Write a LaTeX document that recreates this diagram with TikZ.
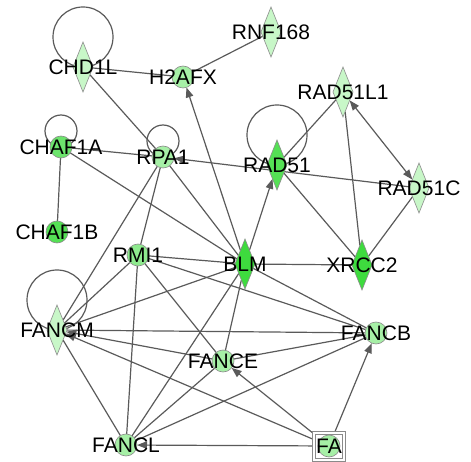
\documentclass[tikz,border=0pt]{standalone}
\usepackage{fontspec}
\setmainfont{Liberation Sans}
\usetikzlibrary{arrows.meta,shapes.geometric,backgrounds}

\definecolor{paleG}{HTML}{C8F7C8}
\definecolor{lightG}{HTML}{A6EFA6}
\definecolor{midG}{HTML}{8EEA8E}
\definecolor{chafG}{HTML}{6CE46C}
\definecolor{strongG}{HTML}{55E055}
\definecolor{deepG}{HTML}{3EDB3E}
\definecolor{edgeC}{HTML}{5A5A5A}
\definecolor{rimC}{HTML}{8A8A8A}

\tikzset{
  gene/.style={draw=rimC, line width=0.6pt, inner sep=0pt, outer sep=0pt},
  dia/.style={gene, diamond, minimum width=20pt, minimum height=50pt},
  dot/.style={gene, circle, minimum size=22pt},
  lbl/.style={font=\fontsize{21}{21}\selectfont, text=black, inner sep=0pt},
  link/.style={draw=edgeC, line width=1.2pt},
  act/.style={link, -{Triangle[length=10pt,width=7.5pt]}},
  both/.style={link, {Triangle[length=10pt,width=7.5pt]}-{Triangle[length=10pt,width=7.5pt]}},
  selfloop/.style={draw=edgeC, line width=1.2pt},
}

\begin{document}
\begin{tikzpicture}[x=1pt, y=-1pt]
\useasboundingbox (0,0) rectangle (471,462);

% genes: diamonds and circles, labels centred on each
\node[dia, fill=paleG,  label={[lbl]center:CHD1L}]   (chd1l)   at (83,67)  {};
\node[dot, fill=lightG, label={[lbl]center:H2AFX}]   (h2afx)   at (183,77) {};
\node[dia, fill=paleG,  label={[lbl]center:RNF168}]  (rnf168)  at (271,32) {};
\node[dot, fill=chafG,  label={[lbl]center:CHAF1A}]  (chaf1a)  at (61,147) {};
\node[dot, fill=lightG, label={[lbl]center:RPA1}]    (rpa1)    at (163,157){};
\node[dia, fill=strongG,label={[lbl]center:RAD51}]   (rad51)   at (277,165){};
\node[dia, fill=paleG,  label={[lbl]center:RAD51L1}] (rad51l1) at (343,92) {};
\node[dia, fill=paleG,  label={[lbl]center:RAD51C}]  (rad51c)  at (419,188){};
\node[dot, fill=strongG,label={[lbl]center:CHAF1B}]  (chaf1b)  at (57,232) {};
\node[dot, fill=midG,   label={[lbl]center:RMI1}]    (rmi1)    at (138,255){};
\node[dia, fill=deepG,  label={[lbl]center:BLM}]     (blm)     at (245,264){};
\node[dia, fill=deepG,  label={[lbl]center:XRCC2}]   (xrcc2)   at (362,265){};
\node[dia, fill=paleG,  label={[lbl]center:FANCM}]   (fancm)   at (57,330) {};
\node[dot, fill=lightG, label={[lbl]center:FANCE}]   (fance)   at (223,361){};
\node[dot, fill=lightG, label={[lbl]center:FANCB}]   (fancb)   at (376,333){};
\node[dot, fill=lightG, label={[lbl]center:FANCL}]   (fancl)   at (126,445){};

% FA: double frame around a circle
\node[gene, fill=white, minimum width=33pt, minimum height=30pt] (fa) at (329,446) {};
\node[gene, minimum width=27pt, minimum height=24pt] (fa-in) at (fa.center) {};
\node[dot, fill=lightG, label={[lbl]center:FA}] (fa-dot) at (fa.center) {};

\begin{scope}[on background layer]
  % self-loops
  \draw[selfloop] (chd1l.center) ++(0,-30) circle[radius=30pt];
  \draw[selfloop] (rad51.center) ++(0,-30) circle[radius=30pt];
  \draw[selfloop] (fancm.center) ++(0,-30) circle[radius=30pt];
  \draw[selfloop] (chaf1a.center) ++(0,-16) circle[radius=16pt];
  \draw[selfloop] (rpa1.center) ++(0,-16) circle[radius=16pt];

  % plain interactions
  \draw[link] (chd1l) -- (h2afx);
  \draw[link] (rnf168) -- (h2afx);
  \draw[link] (chd1l) -- (rpa1);
  \draw[link] (chaf1a) -- (rpa1);
  \draw[link] (chaf1a) -- (chaf1b);
  \draw[link] (chaf1a) -- (blm);
  \draw[link] (rpa1) -- (rmi1);
  \draw[link] (rpa1) -- (blm);
  \draw[link] (rpa1) -- (fancm);
  \draw[link] (rad51) -- (rad51l1);
  \draw[link] (rad51) -- (xrcc2);
  \draw[link] (rad51l1) -- (xrcc2);
  \draw[link] (rad51c) -- (xrcc2);
  \draw[link] (blm) -- (xrcc2);
  \draw[link] (rmi1) -- (blm);
  \draw[link] (rmi1) -- (fancb);
  \draw[link] (rmi1) -- (fance);
  \draw[link] (rmi1) -- (fancl);
  \draw[link] (rmi1) -- (fancm);
  \draw[link] (fancm) -- (blm);
  \draw[link] (fancm) -- (fancb);
  \draw[link] (fancm) -- (fancl);
  \draw[link] (blm) -- (fancb);
  \draw[link] (blm) -- (fance);
  \draw[link] (blm) -- (fancl);
  \draw[link] (fance) -- (fancb);
  \draw[link] (fance) -- (fancl);
  \draw[link] (fancl) -- (fancb);

  % directed interactions
  \draw[act] (blm) -- (h2afx);
  \draw[act] (rad51c) -- (rpa1);
  \draw[act] (blm) -- (rad51);
  \draw[both] (rad51l1) -- (rad51c);
  \draw[act] (fance) -- (fancm);
  \draw[act] (fa) -- (fancm);
  \draw[act] (fa) -- (fance);
  \draw[act] (fa) -- (fancb);
  \draw[act] (fa) -- (fancl);
\end{scope}
\end{tikzpicture}
\end{document}
